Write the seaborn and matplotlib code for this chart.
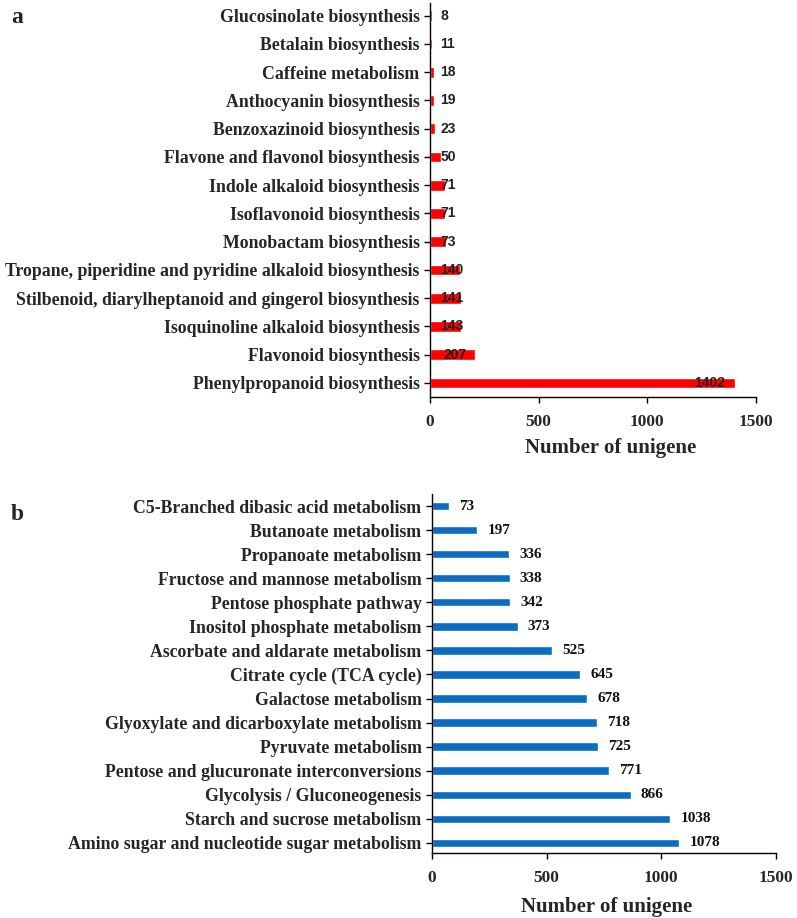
import matplotlib
matplotlib.use('Agg')
import matplotlib.pyplot as plt
import pandas as pd
import seaborn as sns

# panel a - secondary metabolism
pathways_a = ['Glucosinolate biosynthesis', 'Betalain biosynthesis', 'Caffeine metabolism',
              'Anthocyanin biosynthesis', 'Benzoxazinoid biosynthesis',
              'Flavone and flavonol biosynthesis', 'Indole alkaloid biosynthesis',
              'Isoflavonoid biosynthesis', 'Monobactam biosynthesis',
              'Tropane, piperidine and pyridine alkaloid biosynthesis',
              'Stilbenoid, diarylheptanoid and gingerol biosynthesis',
              'Isoquinoline alkaloid biosynthesis', 'Flavonoid biosynthesis',
              'Phenylpropanoid biosynthesis']
counts_a = [8, 11, 18, 19, 23, 50, 71, 71, 73, 140, 141, 143, 207, 1402]

# panel b - carbohydrate metabolism
pathways_b = ['C5-Branched dibasic acid metabolism', 'Butanoate metabolism',
              'Propanoate metabolism', 'Fructose and mannose metabolism',
              'Pentose phosphate pathway', 'Inositol phosphate metabolism',
              'Ascorbate and aldarate metabolism', 'Citrate cycle (TCA cycle)',
              'Galactose metabolism', 'Glyoxylate and dicarboxylate metabolism',
              'Pyruvate metabolism', 'Pentose and glucuronate interconversions',
              'Glycolysis / Gluconeogenesis', 'Starch and sucrose metabolism',
              'Amino sugar and nucleotide sugar metabolism']
counts_b = [73, 197, 336, 338, 342, 373, 525, 645, 678, 718, 725, 771, 866, 1038, 1078]

xticks = [0, 500, 1000, 1500]

sns.set_style('ticks')
plt.rcParams['font.family'] = ['Liberation Serif', 'DejaVu Serif']

df_a = pd.DataFrame({'pathway': pathways_a, 'n': counts_a})
df_b = pd.DataFrame({'pathway': pathways_b, 'n': counts_b})

fig = plt.figure(figsize=(7.97, 9.18), dpi=100)
ax1 = fig.add_axes([0.5395, 0.5675, 0.4091, 0.4292])
ax2 = fig.add_axes([0.5420, 0.0708, 0.4317, 0.3911])

sns.barplot(data=df_a, x='n', y='pathway', orient='h', color='#FF0000',
            width=0.38, saturation=1, ax=ax1)
sns.barplot(data=df_b, x='n', y='pathway', orient='h', color='#0B6DC2',
            width=0.35, saturation=1, ax=ax2)

# value labels a (sans, near base; largest one inside end)
for i, v in enumerate(counts_a):
    if v > 1000:
        ax1.text(v - 45, i, str(v), ha='right', va='center', fontsize=10,
                 fontweight='bold', family='Liberation Sans', color='#222222')
    else:
        ax1.text(max(v * 0.3, 48), i, str(v), ha='left', va='center', fontsize=10,
                 fontweight='bold', family='Liberation Sans', color='#222222')

# value labels b (outside end)
for i, v in enumerate(counts_b):
    ax2.text(v + 45, i, str(v), ha='left', va='center', fontsize=11,
             fontweight='bold', color='#111111')

ax1.set_ylim(13.5, -0.45)
ax2.set_ylim(14.42, -0.5)

for ax in [ax1, ax2]:
    ax.set_xlim(0, 1500)
    ax.set_xticks(xticks)
    ax.set_xticklabels([str(t) for t in xticks], fontsize=12.5, fontweight='bold')
    ax.set_ylabel('')
    ax.set_xlabel('Number of unigene', fontsize=15, fontweight='bold', va='center')
    for lab in ax.get_yticklabels():
        lab.set_fontsize(12.8)
        lab.set_fontweight('bold')
    ax.tick_params(axis='both', direction='out', length=4, width=1, color='black')
    ax.tick_params(axis='x', pad=8)
    sns.despine(ax=ax)
    for s in ['left', 'bottom']:
        ax.spines[s].set_color('black')
        ax.spines[s].set_linewidth(1)

ax1.xaxis.set_label_coords(0.555, -0.129)
ax2.xaxis.set_label_coords(0.509, -0.150)

fig.text(0.014, 0.981, 'a', fontsize=17, fontweight='bold', va='center')
fig.text(0.014, 0.439, 'b', fontsize=17, fontweight='bold', va='center')

fig.savefig('out.png', dpi=100, facecolor='white')
